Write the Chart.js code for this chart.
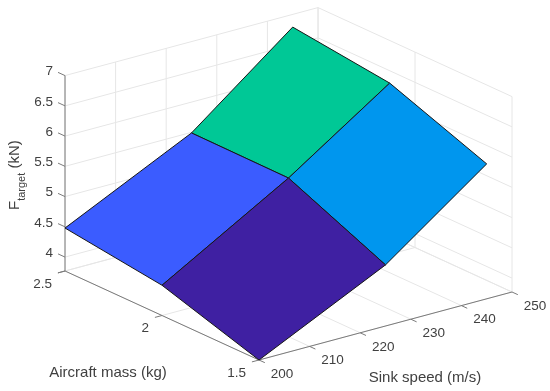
<!DOCTYPE html>
<html>
<head>
<meta charset="utf-8">
<title>Ftarget surface</title>
<script src="https://cdn.jsdelivr.net/npm/chart.js@4/dist/chart.umd.min.js"></script>
<style>
  body { margin: 0; background: #fff; }
  canvas { display: block; }
</style>
</head>
<body>
<canvas id="surfaceChart" width="550" height="391"></canvas>
<script>
// surface values
const sinkSpeeds = [200, 225, 245];
const aircraftMasses = [1.5, 2, 2.5];
const fTarget = [
  [3.77, 4.78, 6.0],   // mass 1.5
  [4.27, 5.48, 6.6],   // mass 2
  [4.48, 5.49, 6.79]   // mass 2.5
];
// one colour per cell, [mass row][speed column]
const cellColors = [
  ['#3f20a2', '#0096ee'],
  ['#3b5cff', '#00c896']
];

const speedTicks = [200, 210, 220, 230, 240, 250];
const massTicks = [1.5, 2, 2.5];
const forceTicks = [4, 4.5, 5, 5.5, 6, 6.5, 7];
const forceTickLabels = ['4', '4.5', '5', '5.5', '6', '6.5', '7'];
const speedRange = [200, 250];
const massRange = [1.5, 2.5];
const forceRange = [3.77, 7];

// orthographic view of the 3D box: where the front floor corner lands and
// how many px one data unit moves along each axis
const view = {
  x0: 259, y0: 360,
  speedDx: 253 / 50, speedDy: -68 / 50,
  massDx: -194, massDy: -89,
  forcePx: -60.5
};

function project(speed, mass, force) {
  const s = speed - speedRange[0];
  const m = mass - massRange[0];
  const f = force - forceRange[0];
  return {
    x: view.x0 + s * view.speedDx + m * view.massDx,
    y: view.y0 + s * view.speedDy + m * view.massDy + f * view.forcePx
  };
}

const gridColor = '#e6e6e6';
const axisColor = '#7a7a7a';
const textColor = '#404040';

function lineSet(a, b, color) {
  return {
    type: 'scatter', showLine: true, fill: false, pointRadius: 0,
    borderColor: color, borderWidth: 1, data: [a, b]
  };
}

function buildSurface() {
  const sets = [];
  for (let r = 0; r < aircraftMasses.length - 1; r++) {
    for (let c = 0; c < sinkSpeeds.length - 1; c++) {
      sets.push({
        type: 'scatter', showLine: true, fill: 'shape', pointRadius: 0,
        backgroundColor: cellColors[r][c], borderColor: '#161616', borderWidth: 1,
        data: [
          project(sinkSpeeds[c], aircraftMasses[r], fTarget[r][c]),
          project(sinkSpeeds[c + 1], aircraftMasses[r], fTarget[r][c + 1]),
          project(sinkSpeeds[c + 1], aircraftMasses[r + 1], fTarget[r + 1][c + 1]),
          project(sinkSpeeds[c], aircraftMasses[r + 1], fTarget[r + 1][c]),
          project(sinkSpeeds[c], aircraftMasses[r], fTarget[r][c])
        ]
      });
    }
  }
  return sets;
}

function buildAxes() {
  const sets = [];
  const fMin = forceRange[0], fMax = forceRange[1];
  const sMin = speedRange[0], sMax = speedRange[1];
  const mMin = massRange[0], mMax = massRange[1];

  // main axis lines and tick marks
  sets.push(lineSet(project(sMin, mMax, fMin), project(sMin, mMax, fMax), axisColor));
  sets.push(lineSet(project(sMin, mMax, fMin), project(sMin, mMin, fMin), axisColor));
  sets.push(lineSet(project(sMin, mMin, fMin), project(sMax, mMin, fMin), axisColor));
  forceTicks.forEach(f => sets.push(lineSet(project(sMin, mMax, f), project(sMin, mMax + 0.036, f), axisColor)));
  sets.push(lineSet(project(sMin, mMax, fMin), project(sMin - 1.4, mMax, fMin), axisColor));
  massTicks.forEach(m => sets.push(lineSet(project(sMin, m, fMin), project(sMin - 1.4, m, fMin), axisColor)));
  speedTicks.forEach(s => sets.push(lineSet(project(s, mMin, fMin), project(s, mMin - 0.03, fMin), axisColor)));

  // grid on the floor and the two back walls
  speedTicks.forEach(s => {
    sets.push(lineSet(project(s, mMin, fMin), project(s, mMax, fMin), gridColor));
    sets.push(lineSet(project(s, mMax, fMin), project(s, mMax, fMax), gridColor));
  });
  massTicks.forEach(m => {
    sets.push(lineSet(project(sMin, m, fMin), project(sMax, m, fMin), gridColor));
    sets.push(lineSet(project(sMax, m, fMin), project(sMax, m, fMax), gridColor));
  });
  forceTicks.forEach(f => {
    sets.push(lineSet(project(sMin, mMax, f), project(sMax, mMax, f), gridColor));
    sets.push(lineSet(project(sMax, mMax, f), project(sMax, mMin, f), gridColor));
  });
  sets.push(lineSet(project(sMin, mMax, fMin), project(sMax, mMax, fMin), gridColor));
  sets.push(lineSet(project(sMax, mMax, fMin), project(sMax, mMin, fMin), gridColor));
  return sets;
}

const axisText = {
  id: 'axisText',
  afterDraw(chart) {
    const ctx = chart.ctx;
    const put = (txt, x, y, align) => {
      ctx.textAlign = align;
      ctx.fillText(txt, x, y);
    };
    ctx.save();
    ctx.fillStyle = textColor;
    ctx.textBaseline = 'middle';
    ctx.font = '13.5px "Liberation Sans"';
    forceTicks.forEach((f, i) => {
      const p = project(speedRange[0], massRange[1], f);
      put(forceTickLabels[i], 53, p.y - 4, 'right');
    });
    massTicks.forEach(m => {
      const p = project(speedRange[0], m, forceRange[0]);
      put(String(m), p.x - 13, p.y + 13, 'right');
    });
    speedTicks.forEach(s => {
      const p = project(s, massRange[0], forceRange[0]);
      put(String(s), p.x + 23, p.y + 14, 'center');
    });

    ctx.font = '15px "Liberation Sans"';
    put('Aircraft mass (kg)', 108, 373, 'center');
    put('Sink speed (m/s)', 425, 378, 'center');

    // rotated z title with its subscript
    ctx.translate(19, 210);
    ctx.rotate(-Math.PI / 2);
    ctx.textAlign = 'left';
    ctx.textBaseline = 'alphabetic';
    let pos = 0;
    ctx.fillText('F', pos, 0);
    pos += ctx.measureText('F').width;
    ctx.font = '11px "Liberation Sans"';
    ctx.fillText('target', pos, 6);
    pos += ctx.measureText('target').width;
    ctx.font = '15px "Liberation Sans"';
    ctx.fillText(' (kN)', pos, 0);
    ctx.restore();
  }
};

// chart.js paints the first dataset last, so the surface goes on top
new Chart(document.getElementById('surfaceChart').getContext('2d'), {
  type: 'scatter',
  data: { datasets: buildSurface().concat(buildAxes()) },
  plugins: [axisText],
  options: {
    responsive: false,
    animation: false,
    layout: { padding: 0 },
    elements: { line: { tension: 0 } },
    plugins: { legend: { display: false }, tooltip: { enabled: false } },
    scales: {
      x: { type: 'linear', display: false, min: 0, max: 550 },
      y: { type: 'linear', display: false, min: 0, max: 391, reverse: true }
    }
  }
});
</script>
</body>
</html>
